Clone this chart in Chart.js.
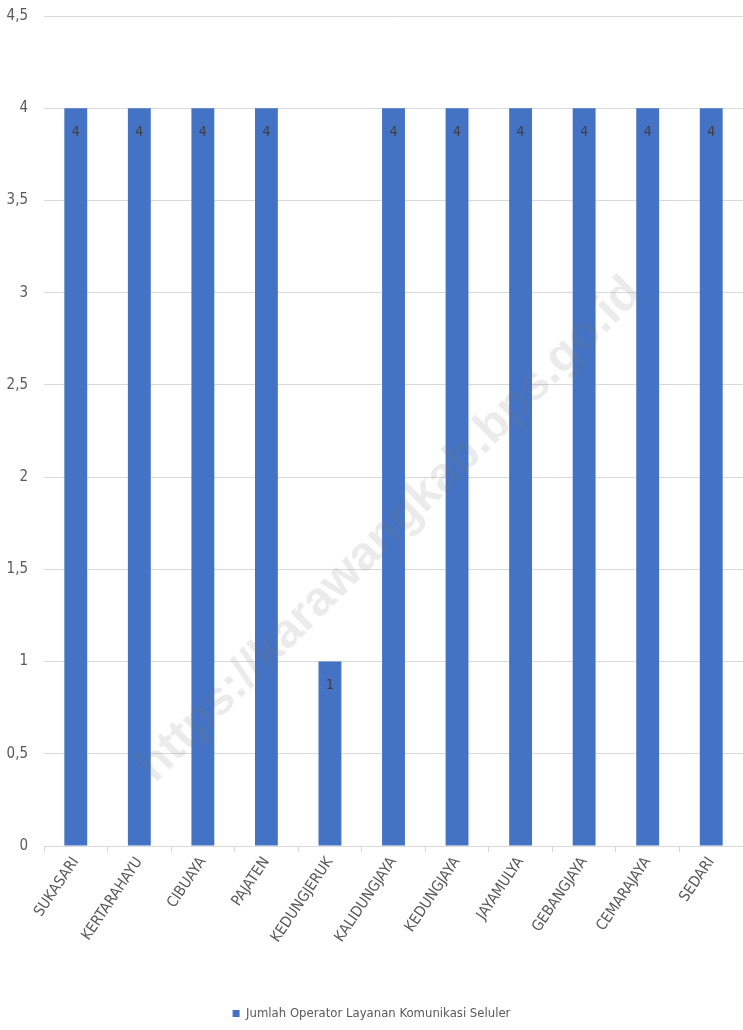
<!DOCTYPE html>
<html>
<head>
<meta charset="utf-8">
<script src="https://cdn.jsdelivr.net/npm/chart.js@4/dist/chart.umd.min.js"></script>
<style>
    html, body { margin: 0; padding: 0; background: #fff; }
    #wrap { width: 743px; height: 1030px; position: relative; }
</style>
</head>
<body>
<div id="wrap"><canvas id="chart"></canvas></div>
<script>
// ─── DATA ────────────────────────────────────────────────────
const villages = ['SUKASARI', 'KERTARAHAYU', 'CIBUAYA', 'PAJATEN', 'KEDUNGJERUK', 'KALIDUNGJAYA',
                  'KEDUNGJAYA', 'JAYAMULYA', 'GEBANGJAYA', 'CEMARAJAYA', 'SEDARI'];
const operators = [4, 4, 4, 4, 1, 4, 4, 4, 4, 4, 4];
const seriesName = 'Jumlah Operator Layanan Komunikasi Seluler';
const yTicks = [0, 0.5, 1, 1.5, 2, 2.5, 3, 3.5, 4, 4.5];
const watermark = 'https://karawangkab.bps.go.id';

const fmt = v => String(v).replace('.', ',');
const FONT = "'Liberation Sans Narrow', 'DejaVu Sans Condensed', 'Liberation Sans', sans-serif";

// ─── PLUGINS ─────────────────────────────────────────────────
const valueLabels = {
    id: 'valueLabels',
    afterDatasetsDraw(chart) {
        const ctx = chart.ctx;
        const meta = chart.getDatasetMeta(0);
        ctx.save();
        ctx.fillStyle = '#404040';
        ctx.font = '14px ' + FONT;
        ctx.textAlign = 'center';
        ctx.textBaseline = 'middle';
        meta.data.forEach((bar, i) => {
            ctx.fillText(fmt(operators[i]), bar.x, bar.y + 24);
        });
        ctx.restore();
    }
};

const watermarkText = {
    id: 'watermarkText',
    afterDraw(chart) {
        const ctx = chart.ctx;
        ctx.save();
        ctx.translate(390, 530);
        ctx.rotate(-Math.PI / 4);
        ctx.fillStyle = 'rgba(120,120,120,0.15)';
        ctx.font = "bold 48px 'Liberation Sans', Arial, sans-serif";
        ctx.textAlign = 'center';
        ctx.textBaseline = 'middle';
        ctx.fillText(watermark, 0, 0);
        ctx.restore();
    }
};

// ─── CHART ───────────────────────────────────────────────────
new Chart(document.getElementById('chart'), {
    type: 'bar',
    data: {
        labels: villages,
        datasets: [{
            label: seriesName,
            data: operators,
            backgroundColor: '#4472c4',
            barPercentage: 0.36,
            categoryPercentage: 1
        }]
    },
    options: {
        responsive: true,
        maintainAspectRatio: false,
        animation: false,
        layout: { padding: { top: 16, right: 0, bottom: 0, left: 0 } },
        plugins: {
            tooltip: { enabled: false },
            legend: {
                position: 'bottom',
                labels: {
                    color: '#595959',
                    font: { size: 13, family: FONT },
                    boxWidth: 7, boxHeight: 7,
                    padding: 10
                }
            }
        },
        scales: {
            x: {
                grid: { display: true, drawOnChartArea: false, color: '#d9d9d9', tickLength: 6 },
                border: { color: '#d9d9d9' },
                ticks: {
                    color: '#595959',
                    font: { size: 15, family: FONT },
                    maxRotation: 56, minRotation: 56,
                    autoSkip: false, padding: 2
                },
                afterFit(scale) { scale.height = 151; }
            },
            y: {
                min: 0, max: 4.5,
                afterBuildTicks(scale) { scale.ticks = yTicks.map(v => ({ value: v })); },
                grid: { color: '#d9d9d9', drawTicks: false },
                border: { display: false },
                ticks: {
                    color: '#595959',
                    font: { size: 15, family: FONT },
                    padding: 16,
                    callback: v => fmt(v)
                },
                afterFit(scale) {
                    scale.width = 44;
                    scale.paddingTop = 0;
                    scale.paddingBottom = 0;
                }
            }
        }
    },
    plugins: [valueLabels, watermarkText]
});
</script>
</body>
</html>
